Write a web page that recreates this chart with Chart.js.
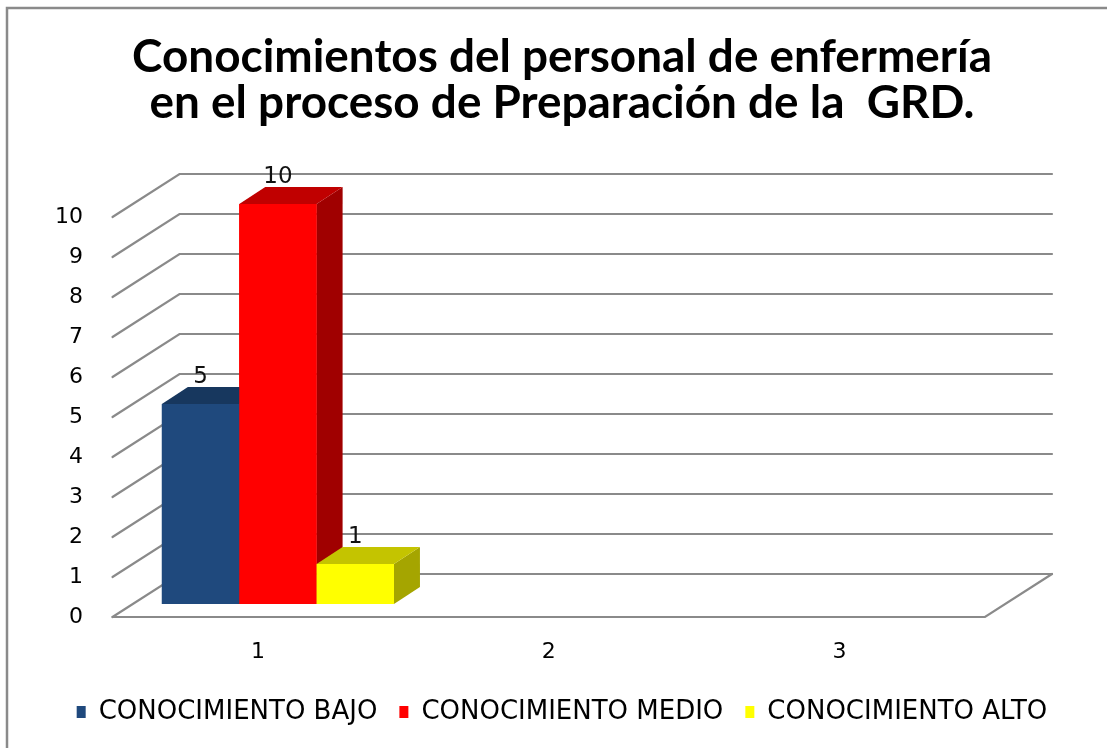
<!DOCTYPE html>
<html>
<head>
<meta charset="utf-8">
<script src="https://cdn.jsdelivr.net/npm/chart.js@4.4.1/dist/chart.umd.min.js"></script>
<style>
  html, body { margin: 0; padding: 0; overflow: hidden; background: #fff; }
  #wrap { width: 1124px; height: 748px; }
</style>
</head>
<body>
<div id="wrap"><canvas id="c" width="1124" height="748"></canvas></div>
<script>
// ---- data ----
const CATEGORIES = ['1', '2', '3'];
const SERIES_NAMES = ['CONOCIMIENTO BAJO', 'CONOCIMIENTO MEDIO', 'CONOCIMIENTO ALTO'];
const BAJO  = [5, 0, 0];
const MEDIO = [10, 0, 0];
const ALTO  = [1, 0, 0];
const Y_MIN = 0, Y_MAX = 10, Y_STEP = 1;
const TITLE_LINES = ['Conocimientos del personal de enfermería', 'en el proceso de Preparación de la  GRD.'];

// ---- style ----
const FRONT_COLORS = ['#1F497D', '#FF0000', '#FFFF00'];
const TOP_COLORS   = ['#17375E', '#C00000', '#C4C400'];
const SIDE_COLORS  = ['#14325A', '#A00000', '#A5A500'];
const GRID_COLOR = '#8a8a8a';
const FRONT = { dx: -20, dy: 13 };   // front edge of floor / wall relative to bar plane
const BACK  = { dx: 47, dy: -30 };   // back wall relative to bar plane
const DEPTH = { dx: 26, dy: -17 };   // bar depth
const NUM_FONT = "'DejaVu Sans', sans-serif";
const TITLE_FONT = "Lato, 'Liberation Sans', sans-serif";
const TITLE_WIDTH = 860;

// fit title font size to the target width
const titleSize = (() => {
  const m = document.createElement('canvas').getContext('2d');
  m.font = "bold 100px " + TITLE_FONT;
  const w = Math.max(...TITLE_LINES.map(t => m.measureText(t).width));
  return Math.min(48, 100 * TITLE_WIDTH / w);
})();

const threeD = {
  id: 'threeD',
  beforeDraw(chart) {
    const ctx = chart.ctx;
    ctx.save();
    ctx.fillStyle = '#fff';
    ctx.fillRect(0, 0, chart.width, chart.height);
    ctx.strokeStyle = '#8a8a8a';
    ctx.lineWidth = 2.5;
    ctx.beginPath();
    ctx.moveTo(7, chart.height + 5);
    ctx.lineTo(7, 8);
    ctx.lineTo(chart.width + 5, 8);
    ctx.stroke();
    ctx.restore();
  },
  beforeDatasetsDraw(chart) {
    const { ctx, chartArea: { left, right }, scales: { y } } = chart;
    ctx.save();
    ctx.strokeStyle = GRID_COLOR;
    ctx.lineWidth = 2.2;
    ctx.lineCap = 'round';
    y.ticks.forEach(t => {
      const py = y.getPixelForValue(t.value);
      ctx.beginPath();
      ctx.moveTo(left + FRONT.dx, py + FRONT.dy);
      ctx.lineTo(left + BACK.dx, py + BACK.dy);
      ctx.lineTo(right + BACK.dx, py + BACK.dy);
      ctx.stroke();
    });
    const p0 = y.getPixelForValue(Y_MIN);
    ctx.beginPath();
    ctx.moveTo(left + FRONT.dx, p0 + FRONT.dy);
    ctx.lineTo(right + FRONT.dx, p0 + FRONT.dy);
    ctx.lineTo(right + BACK.dx, p0 + BACK.dy);
    ctx.stroke();
    ctx.restore();
  },
  afterDatasetsDraw(chart) {
    const ctx = chart.ctx;
    const n = chart.data.labels.length;
    const nd = chart.data.datasets.length;
    const poly = (pts, color) => {
      ctx.fillStyle = color;
      ctx.beginPath();
      ctx.moveTo(pts[0][0], pts[0][1]);
      for (let k = 1; k < pts.length; k++) ctx.lineTo(pts[k][0], pts[k][1]);
      ctx.closePath();
      ctx.fill();
    };
    ctx.save();
    const labels = [];
    for (let i = 0; i < n; i++) {
      for (let d = 0; d < nd; d++) {
        const v = chart.data.datasets[d].data[i];
        if (!v) continue;
        const el = chart.getDatasetMeta(d).data[i];
        const x0 = el.x - el.width / 2, x1 = el.x + el.width / 2;
        const top = el.y, base = el.base;
        poly([[x1, top], [x1 + DEPTH.dx, top + DEPTH.dy], [x1 + DEPTH.dx, base + DEPTH.dy], [x1, base]], SIDE_COLORS[d]);
        poly([[x0, top], [x1, top], [x1 + DEPTH.dx, top + DEPTH.dy], [x0 + DEPTH.dx, top + DEPTH.dy]], TOP_COLORS[d]);
        poly([[x0, top], [x1, top], [x1, base], [x0, base]], FRONT_COLORS[d]);
        labels.push([String(v), el.x, top - 27]);
      }
    }
    ctx.fillStyle = '#111';
    ctx.font = "23px " + NUM_FONT;
    ctx.textAlign = 'center';
    ctx.textBaseline = 'middle';
    labels.forEach(([t, x, yy]) => ctx.fillText(t, x, yy));
    ctx.restore();
  }
};

const datasets = [BAJO, MEDIO, ALTO].map((arr, d) => ({
  label: SERIES_NAMES[d],
  data: arr,
  backgroundColor: FRONT_COLORS[d],
  borderWidth: 0,
  categoryPercentage: 0.798,
  barPercentage: 1.0
}));

new Chart(document.getElementById('c'), {
  type: 'bar',
  data: { labels: CATEGORIES, datasets },
  plugins: [threeD],
  options: {
    responsive: false,
    animation: false,
    devicePixelRatio: 1,
    layout: { padding: { top: 0, left: 0, right: 0, bottom: 13 } },
    plugins: {
      tooltip: { enabled: false },
      title: {
        display: true,
        text: TITLE_LINES,
        color: '#000',
        font: { family: TITLE_FONT, weight: 'bold', size: titleSize, lineHeight: '46px' },
        padding: { top: 34, bottom: 78 }
      },
      legend: {
        display: true,
        position: 'bottom',
        labels: {
          color: '#000',
          font: { family: NUM_FONT, size: 26 },
          boxWidth: 9,
          boxHeight: 12,
          padding: 22
        }
      }
    },
    scales: {
      x: {
        grid: { display: false, drawTicks: false },
        border: { display: false },
        ticks: { color: '#000', font: { family: NUM_FONT, size: 22 }, padding: 35.5, labelOffset: FRONT.dx },
        afterFit(s) { s.height = 73; }
      },
      y: {
        min: Y_MIN, max: Y_MAX,
        grid: { display: false, drawTicks: false },
        border: { display: false },
        ticks: { stepSize: Y_STEP, color: '#000', font: { family: NUM_FONT, size: 22 }, padding: 49.5, labelOffset: FRONT.dy },
        afterFit(s) { s.width = 132.5; }
      },
      yR: {
        type: 'linear',
        position: 'right',
        display: true,
        grid: { display: false, drawTicks: false },
        border: { display: false },
        ticks: { display: false },
        afterFit(s) { s.width = 119; }
      }
    }
  }
});
</script>
</body>
</html>
